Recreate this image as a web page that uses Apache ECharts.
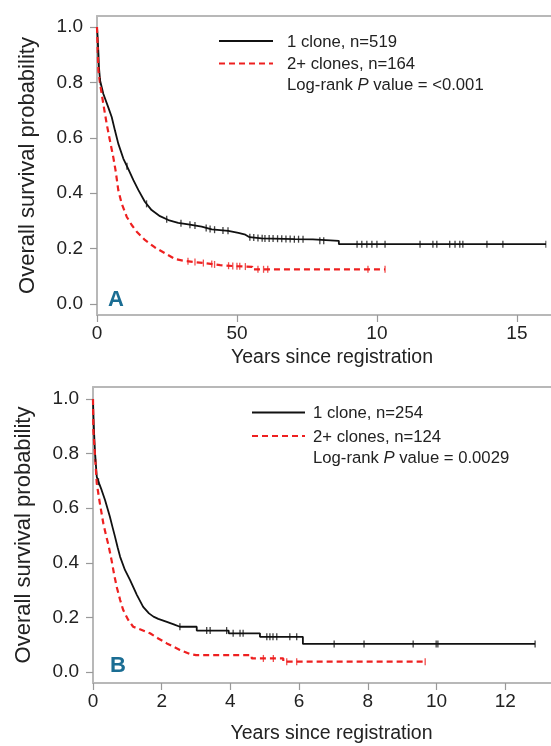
<!DOCTYPE html>
<html>
<head>
<meta charset="utf-8">
<script src="https://cdn.jsdelivr.net/npm/echarts@6/dist/echarts.min.js"></script>
<style>
html,body{margin:0;padding:0;background:#fff;overflow:hidden;}
#chart{width:551px;height:746px;}
</style>
</head>
<body>
<div id="chart"></div>
<script>
// ---------- Panel A data (Kaplan-Meier curves) ----------
const blackA_t = [0, 0.025, 0.05, 0.07, 0.11, 0.225, 0.40, 0.525, 0.64, 0.76, 0.94, 1.12, 1.30, 1.48, 1.71, 1.95, 2.25, 2.55, 2.9, 3.26, 3.74, 4.1, 4.69, 5.05, 5.3, 5.45, 5.88, 7.07, 7.71, 7.71, 8.64, 8.64, 16.04];
const blackA_s = [1.0, 0.96, 0.905, 0.855, 0.807, 0.759, 0.711, 0.675, 0.627, 0.579, 0.525, 0.487, 0.447, 0.411, 0.369, 0.339, 0.317, 0.303, 0.293, 0.287, 0.279, 0.269, 0.264, 0.257, 0.250, 0.241, 0.237, 0.234, 0.233, 0.228, 0.228, 0.216, 0.216];
const redA_t = [0, 0.03, 0.05, 0.11, 0.225, 0.345, 0.46, 0.58, 0.67, 0.76, 0.88, 1.06, 1.24, 1.42, 1.71, 2.07, 2.43, 2.79, 3.14, 3.86, 4.4, 5.0, 5.55, 5.55, 10.29];
const redA_s = [1.0, 0.90, 0.843, 0.795, 0.723, 0.651, 0.591, 0.531, 0.478, 0.411, 0.363, 0.315, 0.285, 0.261, 0.231, 0.204, 0.183, 0.162, 0.155, 0.147, 0.140, 0.136, 0.134, 0.125, 0.125];
const blackA_cens = [0.05, 0.12, 1.07, 1.77, 2.49, 3.0, 3.32, 3.5, 3.9, 4.04, 4.2, 4.5, 4.68, 5.46, 5.6, 5.75, 5.9, 6.0, 6.15, 6.29, 6.45, 6.6, 6.75, 6.9, 7.05, 7.2, 7.36, 7.96, 8.1, 9.29, 9.46, 9.64, 9.82, 10.0, 10.29, 11.54, 12.0, 12.14, 12.6, 12.79, 12.96, 13.07, 13.93, 14.5, 16.04];
const redA_cens = [3.25, 3.5, 3.8, 4.1, 4.2, 4.7, 4.85, 5.0, 5.1, 5.3, 5.75, 5.95, 6.1, 9.68, 10.29];
const xTicksA = [0, 5, 10, 15];
const xLabelsA = ["0", "50", "10", "15"];
const legendA = ["1 clone, n=519", "2+ clones, n=164"];
const pValueA = "<0.001";

// ---------- Panel B data ----------
const blackB_t = [0, 0.01, 0.03, 0.06, 0.11, 0.18, 0.25, 0.35, 0.42, 0.49, 0.57, 0.64, 0.72, 0.79, 0.93, 1.08, 1.28, 1.46, 1.63, 1.76, 1.9, 2.15, 2.35, 2.53, 3.02, 3.02, 3.95, 3.95, 4.86, 4.86, 6.11, 6.11, 12.87];
const blackB_s = [1.0, 0.95, 0.88, 0.80, 0.715, 0.69, 0.667, 0.63, 0.60, 0.57, 0.53, 0.496, 0.455, 0.422, 0.374, 0.337, 0.282, 0.239, 0.215, 0.203, 0.195, 0.184, 0.175, 0.166, 0.166, 0.152, 0.152, 0.142, 0.142, 0.129, 0.129, 0.103, 0.103];
const redB_t = [0, 0.01, 0.06, 0.11, 0.20, 0.30, 0.38, 0.45, 0.54, 0.61, 0.69, 0.79, 0.88, 1.03, 1.17, 1.42, 1.66, 1.9, 2.15, 2.39, 2.53, 2.82, 3.0, 4.62, 4.62, 5.54, 5.54, 9.67];
const redB_s = [1.0, 0.886, 0.789, 0.691, 0.618, 0.545, 0.50, 0.465, 0.41, 0.361, 0.312, 0.264, 0.227, 0.19, 0.166, 0.154, 0.142, 0.123, 0.105, 0.09, 0.081, 0.066, 0.062, 0.062, 0.050, 0.050, 0.038, 0.038];
const blackB_cens = [0.07, 0.16, 2.53, 3.31, 3.41, 3.89, 4.08, 4.28, 4.37, 5.06, 5.15, 5.24, 5.35, 5.73, 5.93, 7.02, 7.89, 9.32, 9.99, 10.04, 12.87];
const redB_cens = [4.96, 5.25, 5.64, 5.93, 9.67];
const xTicksB = [0, 2, 4, 6, 8, 10, 12];
const legendB = ["1 clone, n=254", "2+ clones, n=124"];
const pValueB = "0.0029";

const yTicks = [0, 0.2, 0.4, 0.6, 0.8, 1.0];

// ---------- helpers ----------
function pairs(t, s) { return t.map((v, i) => [v, s[i]]); }
// position a censoring mark on the curve at time x
function curveAt(t, s, x) {
  for (let i = 0; i < t.length - 1; i++) {
    if (x >= t[i] && x <= t[i + 1] && t[i + 1] > t[i]) {
      const f = (x - t[i]) / (t[i + 1] - t[i]);
      return s[i] + f * (s[i + 1] - s[i]);
    }
  }
  return s[s.length - 1];
}
function censPts(c, t, s) { return c.map(x => [x, curveAt(t, s, x)]); }

const FONT = "'Liberation Sans', Arial, sans-serif";
const BLACK = '#111111';
const RED = '#ee2020';
const AXIS = '#b8b8b8';

function yAxisCfg(gi, max) {
  return {
    gridIndex: gi, type: 'value', min: -0.04, max: max,
    name: 'Overall survival probability', nameLocation: 'middle', nameGap: 58,
    nameTextStyle: { fontFamily: FONT, fontSize: 22, color: '#222' },
    axisLine: { show: true, lineStyle: { color: AXIS, width: 2 } },
    axisTick: { show: true, inside: false, customValues: yTicks, length: 7, lineStyle: { color: '#999', width: 1.2 } },
    axisLabel: { customValues: yTicks, margin: 14, fontFamily: FONT, fontSize: 19, color: '#222',
      formatter: v => v.toFixed(1) },
    splitLine: { show: false }
  };
}
function xAxisCfg(gi, max, ticks, labels, gap) {
  return {
    gridIndex: gi, type: 'value', position: 'bottom', min: 0, max: max,
    name: 'Years since registration', nameLocation: 'middle', nameGap: gap,
    nameTextStyle: { fontFamily: FONT, fontSize: 19.5, color: '#222' },
    axisLine: { show: true, onZero: false, lineStyle: { color: AXIS, width: 2 } },
    axisTick: { show: true, inside: false, customValues: ticks, length: 7, lineStyle: { color: '#999', width: 1.2 } },
    axisLabel: { customValues: ticks, margin: 9, fontFamily: FONT, fontSize: 19, color: '#222',
      formatter: v => { const i = ticks.indexOf(v); return labels ? labels[i] : String(v); } },
    splitLine: { show: false }
  };
}
// plain top frame line of a panel
function topFrameCfg(gi, max) {
  return {
    gridIndex: gi, type: 'value', position: 'top', min: 0, max: max,
    axisLine: { show: true, onZero: false, lineStyle: { color: AXIS, width: 2 } },
    axisTick: { show: false }, axisLabel: { show: false }, splitLine: { show: false }
  };
}
function kmSeries(name, t, s, color, dashed, xi) {
  return {
    name: name, type: 'line', xAxisIndex: xi, yAxisIndex: xi,
    data: pairs(t, s), showSymbol: false, symbol: 'none', silent: true, smooth: false,
    lineStyle: { color: color, width: dashed ? 2.2 : 1.8, type: dashed ? [6, 4] : 'solid' },
    z: dashed ? 3 : 2
  };
}
function censSeries(c, t, s, color, xi) {
  return {
    type: 'scatter', xAxisIndex: xi, yAxisIndex: xi, silent: true,
    data: censPts(c, t, s), symbol: 'rect', symbolSize: [1.3, 7],
    itemStyle: { color: color }, z: 4
  };
}
function legendGraphic(x1, x2, tx, y1, y2, y3, names, pval) {
  return [
    { type: 'line', shape: { x1: x1, y1: y1, x2: x2, y2: y1 }, style: { stroke: BLACK, lineWidth: 2 } },
    { type: 'line', shape: { x1: x1, y1: y2, x2: x2, y2: y2 }, style: { stroke: RED, lineWidth: 2, lineDash: [6, 4] } },
    { type: 'text', x: tx, y: y1 + 1, style: { text: names[0], font: '16.7px ' + FONT, fill: '#222', verticalAlign: 'middle' } },
    { type: 'text', x: tx, y: y2 + 1, style: { text: names[1], font: '16.7px ' + FONT, fill: '#222', verticalAlign: 'middle' } },
    { type: 'text', x: tx, y: y3, style: {
        text: 'Log-rank {i|P} value = ' + pval, font: '16.7px ' + FONT, fill: '#222', verticalAlign: 'middle',
        rich: { i: { fontStyle: 'italic', fontFamily: FONT, fontSize: 16.7, fill: '#222' } } } }
  ];
}

const chart = echarts.init(document.getElementById('chart'), null, { renderer: 'canvas' });
chart.setOption({
  backgroundColor: '#ffffff',
  animation: false,
  grid: [
    { left: 97, top: 16, width: 470, height: 299, show: false, containLabel: false, outerBoundsMode: 'none' },
    { left: 93, top: 387, width: 477, height: 296, show: false, containLabel: false, outerBoundsMode: 'none' }
  ],
  xAxis: [
    xAxisCfg(0, 16.79, xTicksA, xLabelsA, 33),
    xAxisCfg(1, 13.886, xTicksB, null, 41),
    topFrameCfg(0, 16.79),
    topFrameCfg(1, 13.886)
  ],
  yAxis: [yAxisCfg(0, 1.04), yAxisCfg(1, 1.044)],
  series: [
    kmSeries(legendA[0], blackA_t, blackA_s, BLACK, false, 0),
    kmSeries(legendA[1], redA_t, redA_s, RED, true, 0),
    censSeries(blackA_cens, blackA_t, blackA_s, BLACK, 0),
    censSeries(redA_cens, redA_t, redA_s, RED, 0),
    kmSeries(legendB[0], blackB_t, blackB_s, BLACK, false, 1),
    kmSeries(legendB[1], redB_t, redB_s, RED, true, 1),
    censSeries(blackB_cens, blackB_t, blackB_s, BLACK, 1),
    censSeries(redB_cens, redB_t, redB_s, RED, 1)
  ],
  graphic: [].concat(
    legendGraphic(219, 273, 287, 41, 63.5, 85, legendA, pValueA),
    legendGraphic(252, 305, 313, 412.5, 436, 458, legendB, pValueB),
    [
      { type: 'text', x: 108, y: 300, style: { text: 'A', font: 'bold 22px ' + FONT, fill: '#1a6d93', verticalAlign: 'middle' } },
      { type: 'text', x: 110, y: 666, style: { text: 'B', font: 'bold 22px ' + FONT, fill: '#1a6d93', verticalAlign: 'middle' } },
      // keep the open right side of each panel clean (the source frame has no right edge)
      { type: 'rect', zlevel: 5, z: 100, shape: { x: 546.5, y: 18, width: 6, height: 295 }, style: { fill: '#ffffff' } },
      { type: 'rect', zlevel: 5, z: 100, shape: { x: 546.5, y: 389, width: 6, height: 292 }, style: { fill: '#ffffff' } }
    ]
  )
});
</script>
</body>
</html>
